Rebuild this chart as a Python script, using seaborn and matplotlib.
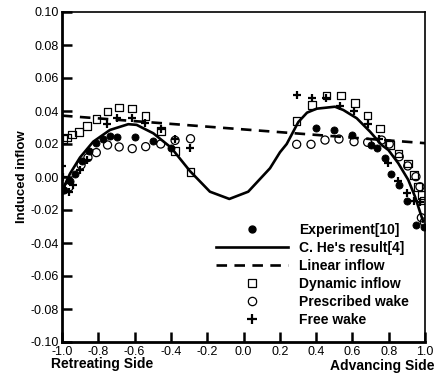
import matplotlib
matplotlib.use("Agg")
import matplotlib.pyplot as plt
import seaborn as sns
import pandas as pd
from matplotlib.lines import Line2D

# Experiment[10] (filled circles)
exp_x = [-0.989, -0.956, -0.930, -0.890, -0.852, -0.811, -0.775, -0.733, -0.695, -0.598, -0.497, -0.399,
         0.399, 0.500, 0.600, 0.700, 0.737, 0.780, 0.815, 0.857, 0.899, 0.950, 0.995]
exp_y = [-0.008, -0.0025, 0.002, 0.0095, 0.0155, 0.0204, 0.0232, 0.0246, 0.0244, 0.0241, 0.0218, 0.0178,
         0.0299, 0.0285, 0.0255, 0.0194, 0.0174, 0.0113, 0.0020, -0.0048, -0.0147, -0.0290, -0.0305]

# C. He's result[4] (solid line)
he_x = [-1.0, -0.990, -0.956, -0.901, -0.828, -0.736, -0.635, -0.589, -0.497, -0.399, -0.295, -0.185,
        -0.078, 0.026, 0.146, 0.201, 0.238, 0.302, 0.350, 0.403, 0.504, 0.550, 0.624, 0.697, 0.761,
        0.798, 0.853, 0.908, 0.945, 0.972, 0.990]
he_y = [-0.010, -0.006, 0.002, 0.0118, 0.0214, 0.0285, 0.0320, 0.0316, 0.0265, 0.0178, 0.0036, -0.0089,
        -0.0133, -0.0089, 0.0053, 0.0150, 0.0200, 0.0333, 0.0390, 0.0414, 0.0426, 0.0406, 0.0356, 0.0275,
        0.0194, 0.0164, 0.0083, -0.0018, -0.0119, -0.0210, -0.0270]

# Linear inflow (dashed line)
lin_x = [-1.0, 1.0]
lin_y = [0.0372, 0.0205]

# Dynamic inflow (open squares)
dyn_x = [-0.996, -0.972, -0.946, -0.908, -0.862, -0.809, -0.750, -0.686, -0.613, -0.539, -0.456, -0.377,
         -0.291, 0.293, 0.376, 0.458, 0.536, 0.614, 0.684, 0.752, 0.807, 0.853, 0.908, 0.941, 0.963,
         0.982, 0.996]
dyn_y = [0.0230, 0.0240, 0.0258, 0.0274, 0.0309, 0.0352, 0.0396, 0.0422, 0.0416, 0.0370, 0.0279, 0.0158,
         0.0032, 0.0339, 0.0436, 0.0493, 0.0493, 0.0447, 0.0372, 0.0295, 0.0194, 0.0143, 0.0083, 0.0012,
         -0.0059, -0.0110, -0.0143]

# Prescribed wake (open circles)
pre_x = [-1.0, -0.960, -0.895, -0.857, -0.811, -0.749, -0.685, -0.613, -0.539, -0.456, -0.377, -0.292,
         0.293, 0.372, 0.449, 0.526, 0.609, 0.684, 0.761, 0.803, 0.858, 0.905, 0.950, 0.972, 0.980, 0.996]
pre_y = [-0.008, -0.006, 0.0073, 0.0118, 0.0148, 0.0194, 0.0182, 0.0172, 0.0184, 0.0200, 0.0222, 0.0232,
         0.0198, 0.0198, 0.0224, 0.0230, 0.0214, 0.0210, 0.0224, 0.0200, 0.0123, 0.0067, 0.0002, -0.0059,
         -0.0247, -0.0273]

# Free wake (plus)
free_x = [-1.0, -0.993, -0.960, -0.941, -0.900, -0.864, -0.754, -0.697, -0.614, -0.541, -0.456, -0.377,
          -0.295, 0.293, 0.376, 0.453, 0.532, 0.610, 0.684, 0.748, 0.798, 0.853, 0.899, 0.941, 0.972]
free_y = [0.0065, 0.0002, -0.009, -0.0048, 0.0042, 0.0103, 0.0320, 0.0356, 0.0356, 0.0329, 0.0290, 0.0232,
          0.0174, 0.0497, 0.0477, 0.0477, 0.0430, 0.0398, 0.0320, 0.0228, 0.0085, -0.0022, -0.0099,
          -0.0147, -0.0150]

plt.rcParams['font.family'] = ['Liberation Sans', 'DejaVu Sans']

fig = plt.figure(figsize=(4.36, 3.76), dpi=100)
ax = fig.add_axes([62 / 436, 1 - 342 / 376, 363 / 436, 330 / 376])

dash = (0, (4, 2.8))

he_df = pd.DataFrame({"x": he_x, "y": he_y})
lin_df = pd.DataFrame({"x": lin_x, "y": lin_y})
sns.lineplot(x="x", y="y", data=he_df, ax=ax, color="black", lw=1.9, sort=False, estimator=None)
sns.lineplot(x="x", y="y", data=lin_df, ax=ax, color="black", lw=1.9, linestyle=dash)

sns.scatterplot(x=exp_x, y=exp_y, ax=ax, marker="o", s=26, color="black", edgecolor="black", linewidth=0.6, zorder=5)
sns.scatterplot(x=dyn_x, y=dyn_y, ax=ax, marker="s", s=30, facecolor="none", edgecolor="black", linewidth=0.9, zorder=5)
sns.scatterplot(x=pre_x, y=pre_y, ax=ax, marker="o", s=34, facecolor="none", edgecolor="black", linewidth=0.9, zorder=5)
sns.scatterplot(x=free_x, y=free_y, ax=ax, marker="+", s=38, color="black", linewidth=1.6, zorder=5)

ax.set_xlim(-1.0, 1.0)
ax.set_ylim(-0.1, 0.1)
ax.set_xticks([-1.0, -0.8, -0.6, -0.4, -0.2, 0.0, 0.2, 0.4, 0.6, 0.8, 1.0])
ax.set_yticks([-0.10, -0.08, -0.06, -0.04, -0.02, 0.00, 0.02, 0.04, 0.06, 0.08, 0.10])
ax.set_xticklabels(["%.1f" % v for v in ax.get_xticks()])
ax.set_yticklabels(["%.2f" % v for v in ax.get_yticks()])
ax.tick_params(direction="in", length=7, width=1.8, labelsize=9, pad=2)
ax.tick_params(axis="x", pad=3)
for side in ["left", "bottom"]:
    ax.spines[side].set_linewidth(2.0)
for side in ["top", "right"]:
    ax.spines[side].set_linewidth(1.2)

ax.set_xlabel("")
ax.set_ylabel("Induced inflow", fontsize=9.5, fontweight="bold", labelpad=2)

fig.text(51 / 436, 1 - 364 / 376, "Retreating Side", fontsize=10, fontweight="bold", ha="left", va="center")
fig.text(434 / 436, 1 - 366 / 376, "Advancing Side", fontsize=10, fontweight="bold", ha="right", va="center")

handles = [
    Line2D([], [], color="black", marker="o", ls="none", ms=5),
    Line2D([], [], color="black", lw=1.9),
    Line2D([], [], color="black", lw=1.9, ls=dash),
    Line2D([], [], color="black", marker="s", ls="none", ms=5.5, mfc="none", mew=0.9),
    Line2D([], [], color="black", marker="o", ls="none", ms=6, mfc="none", mew=0.9),
    Line2D([], [], color="black", marker="+", ls="none", ms=6.5, mew=1.6),
]
labels = ["Experiment[10]", "C. He's result[4]", "Linear inflow", "Dynamic inflow", "Prescribed wake", "Free wake"]
fig.legend(handles, labels, loc="lower left", bbox_to_anchor=(216 / 436, 1 - 327 / 376), frameon=False,
           prop={"weight": "bold", "size": 10}, handlelength=5.2, handletextpad=0.8, labelspacing=0.29,
           borderpad=0, borderaxespad=0)

fig.savefig("out.png", dpi=100)
